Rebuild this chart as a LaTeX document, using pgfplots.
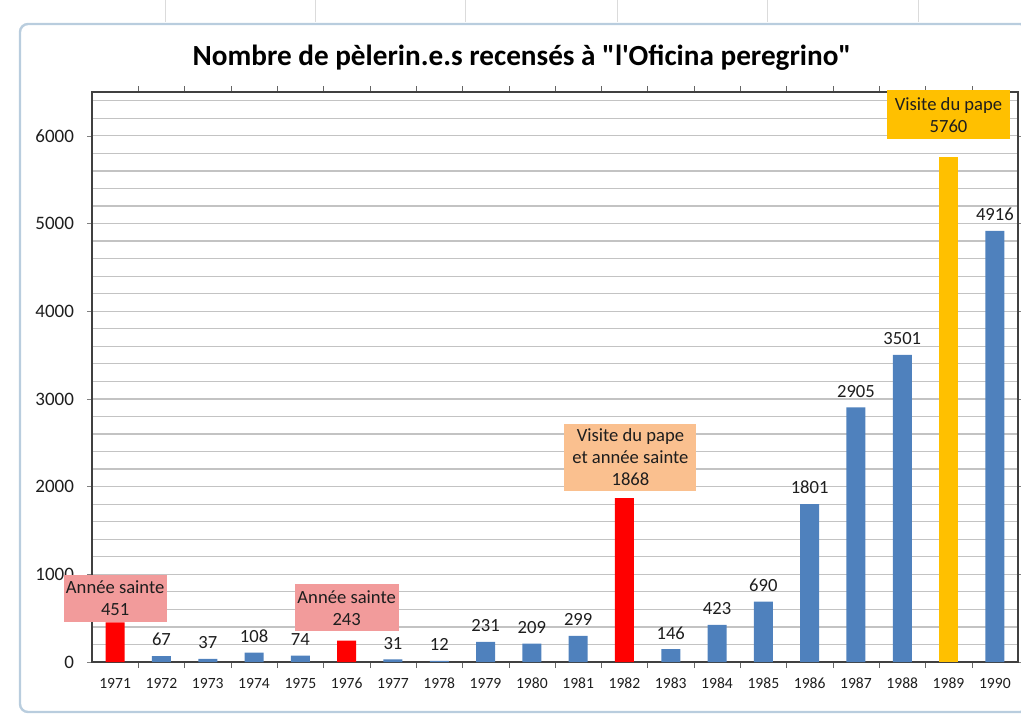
\documentclass[border=0pt]{standalone}
\usepackage{pgfplots}
\pgfplotsset{compat=1.18}
\usepackage{fontspec}
\setmainfont{Carlito}
\newfontfamily\titlefont{Carlito}
\definecolor{xblue}{RGB}{79,129,189}
\definecolor{xred}{RGB}{255,0,0}
\definecolor{xgold}{RGB}{255,192,0}
\definecolor{xpink}{RGB}{242,155,155}
\definecolor{xorange}{RGB}{250,192,143}
\definecolor{xgrid}{RGB}{195,195,195}
\definecolor{xframe}{RGB}{185,205,222}
\definecolor{xtext}{RGB}{30,30,30}
\begin{document}
\begin{tikzpicture}
\path[use as bounding box] (0,0) rectangle (510.5pt,357pt);
% Excel sheet background hints
\foreach \xx in {82.5,157.5,232.5,308.5,383.5,459}{
  \draw[xgrid!60,line width=0.4pt] (\xx pt,357pt) -- (\xx pt,346pt);
}
\draw[xframe,line width=1.2pt,rounded corners=4pt] (10pt,1pt) rectangle (514pt,345pt);
\node[font=\titlefont\fontsize{14.6}{17}\selectfont\bfseries] at (261pt,328pt) {Nombre de pèlerin.e.s recensés à "l'Oficina peregrino"};
\begin{axis}[
  at={(46pt,26pt)}, anchor=south west,
  scale only axis, width=463pt, height=285pt,
  xmin=0.5, xmax=20.5, ymin=0, ymax=6500,
  clip=false,
  axis line style={draw=black!75, line width=0.9pt},
  xtick={1,...,20},
  xticklabels={1971,1972,1973,1974,1975,1976,1977,1978,1979,1980,1981,1982,1983,1984,1985,1986,1987,1988,1989,1990},
  major x tick style={draw=none},
  minor xtick={1.5,2.5,...,19.5},
  minor x tick style={draw=black!60},
  minor tick length=3pt,
  ytick={0,1000,...,6000},
  minor ytick={200,400,...,6400},
  minor y tick style={draw=none},
  major tick length=2.5pt,
  tick align=outside,
  ymajorgrids, yminorgrids,
  major grid style={xgrid, line width=0.6pt},
  minor grid style={xgrid, line width=0.6pt},
  xticklabel style={font=\fontsize{7.8}{9}\selectfont, text=xtext, yshift=-2pt},
  yticklabel style={font=\fontsize{9.5}{11}\selectfont, text=xtext, xshift=-3pt},
  /pgf/number format/assume math mode=true,
  /pgf/number format/1000 sep={},
  axis on top=false,
]
\addplot[ybar, bar width=9.5pt, bar shift=0pt, fill=xblue, draw=none,
  nodes near coords,
  every node near coord/.append style={font=\fontsize{9.3}{11}\selectfont, text=xtext, yshift=1.5pt}]
coordinates {(2,67) (3,37) (4,108) (5,74) (7,31) (8,12) (9,231) (10,209) (11,299) (13,146) (14,423) (15,690) (16,1801) (17,2905) (18,3501) (20,4916)};
\addplot[ybar, bar width=9.5pt, bar shift=0pt, fill=xred, draw=none]
coordinates {(1,451) (6,243) (12,1868)};
\addplot[ybar, bar width=9.5pt, bar shift=0pt, fill=xgold, draw=none]
coordinates {(19,5760)};
\node[anchor=south, fill=xpink, minimum width=51.5pt, minimum height=23.5pt, inner sep=1pt, align=center, text=xtext, font=\fontsize{9.3}{11}\selectfont] at (axis cs:1,451) {Année sainte\\451};
\node[anchor=south, fill=xpink, minimum width=52pt, minimum height=23.5pt, inner sep=1pt, align=center, text=xtext, font=\fontsize{9.3}{11}\selectfont, yshift=4.5pt] at (axis cs:6,243) {Année sainte\\243};
\node[anchor=south, fill=xorange, minimum width=66pt, minimum height=33.5pt, inner sep=1pt, align=center, text=xtext, font=\fontsize{9.3}{11}\selectfont, yshift=3.5pt, xshift=3pt] at (axis cs:12,1868) {Visite du pape\\et année sainte\\1868};
\node[anchor=south, fill=xgold, minimum width=61.5pt, minimum height=24.5pt, inner sep=1pt, align=center, text=xtext, font=\fontsize{9.3}{11}\selectfont, yshift=8.5pt] at (axis cs:19,5760) {Visite du pape\\5760};
\end{axis}
\end{tikzpicture}
\end{document}
